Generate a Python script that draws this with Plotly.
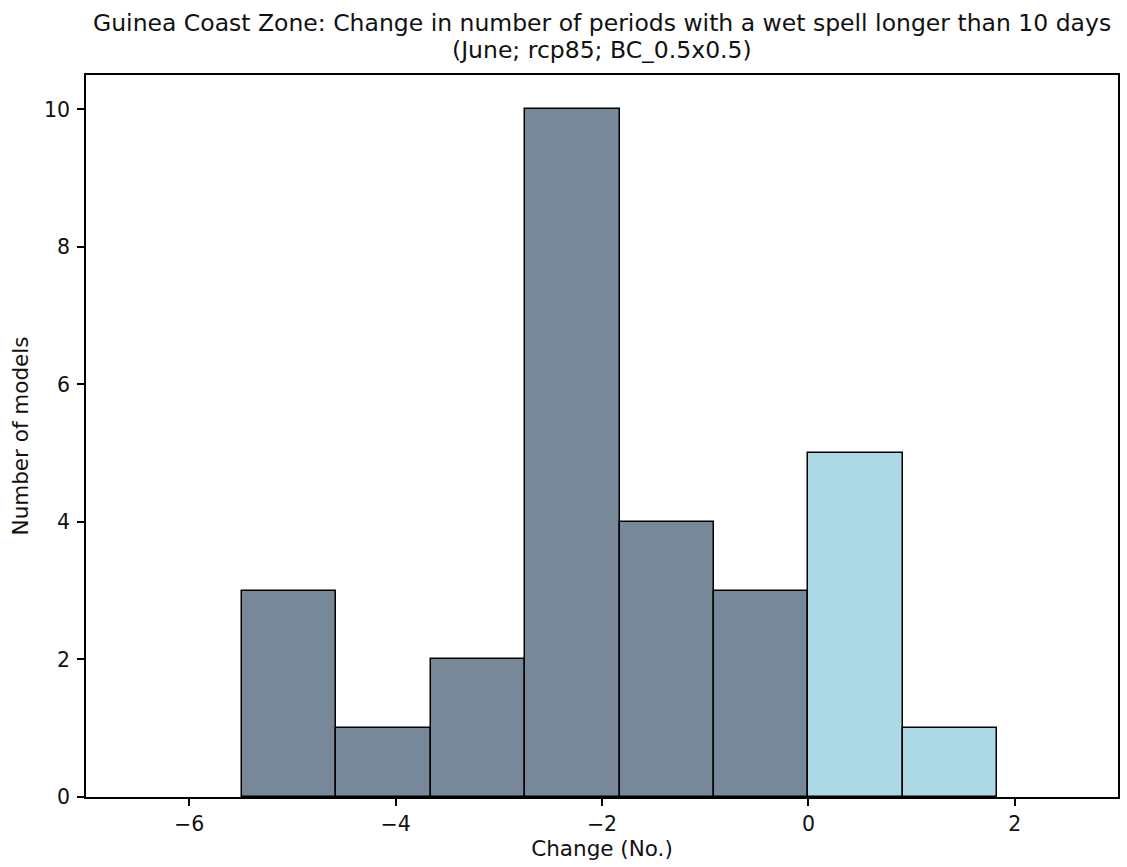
import plotly.graph_objects as go

# Histogram data
bin_edges = [-5.49, -4.575, -3.66, -2.745, -1.83, -0.915, 0.0, 0.915, 1.83]
counts = [3, 1, 2, 10, 4, 3, 5, 1]
x_tick_vals = [-6, -4, -2, 0, 2]
x_tick_text = ["\u22126", "\u22124", "\u22122", "0", "2"]
y_tick_vals = [0, 2, 4, 6, 8, 10]

title_line1 = "Guinea Coast Zone: Change in number of periods with a wet spell longer than 10 days"
title_line2 = "(June; rcp85; BC_0.5x0.5)"

centers = [(bin_edges[i] + bin_edges[i + 1]) / 2 for i in range(len(counts))]
widths = [bin_edges[i + 1] - bin_edges[i] for i in range(len(counts))]
colors = ["#ADD8E6" if bin_edges[i] >= 0 else "#778899" for i in range(len(counts))]

fig = go.Figure()
fig.add_trace(go.Bar(
    x=centers, y=counts, width=widths,
    marker=dict(color=colors, line=dict(color="black", width=1.5)),
    hoverinfo="x+y", showlegend=False,
))

font_family = "DejaVu Sans"
title_font = dict(size=23.5, family=font_family, color="#111111")
fig.update_layout(
    width=1127, height=867,
    margin=dict(l=86, r=9, t=75, b=70, autoexpand=False),
    plot_bgcolor="white", paper_bgcolor="white",
    font=dict(family=font_family, size=20.5, color="#111111"),
    bargap=0,
    annotations=[
        dict(text=title_line1, xref="paper", yref="paper", x=0.5, y=1.0,
             xanchor="center", yanchor="bottom", yshift=36,
             showarrow=False, font=title_font),
        dict(text=title_line2, xref="paper", yref="paper", x=0.5, y=1.0,
             xanchor="center", yanchor="bottom", yshift=9,
             showarrow=False, font=title_font),
    ],
)
fig.update_xaxes(
    range=[-7, 3], tickvals=x_tick_vals, ticktext=x_tick_text,
    showline=True, linecolor="black", linewidth=1.5, mirror=True,
    ticks="outside", ticklen=7, tickwidth=1.5, tickcolor="black",
    showgrid=False, zeroline=False, automargin=False, ticklabelstandoff=1,
    title=dict(text="Change (No.)", font=dict(size=21.5), standoff=6),
)
fig.update_yaxes(
    range=[0, 10.5], tickvals=y_tick_vals,
    showline=True, linecolor="black", linewidth=1.5, mirror=True,
    ticks="outside", ticklen=7, tickwidth=1.5, tickcolor="black",
    showgrid=False, zeroline=False, automargin=False, ticklabelstandoff=3,
    title=dict(text="Number of models", font=dict(size=21.5), standoff=10),
)

fig.write_html("out.html", config={"displayModeBar": False},
               post_script="document.body.style.margin='0px';")
